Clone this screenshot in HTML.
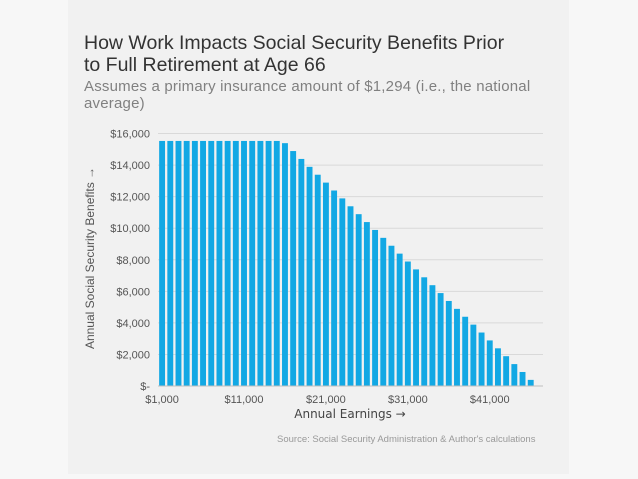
<!DOCTYPE html>
<html><head><meta charset="utf-8"><style>
body{margin:0;width:638px;height:479px;background:#f7f7f7;font-family:"Liberation Sans",sans-serif;overflow:hidden;position:relative}
#panel{position:absolute;left:68px;top:0;width:501px;height:474px;background:#f1f1f1}
.t{position:absolute;white-space:nowrap}
</style></head><body>
<div id="panel"></div>
<div class="t" style="left:84px;top:32px;font-size:19.5px;line-height:22px;color:#333">How Work Impacts Social Security Benefits Prior<br>to Full Retirement at Age 66</div>
<div class="t" style="left:84px;top:78px;font-size:15px;letter-spacing:0.2px;line-height:17px;color:#808080">Assumes a primary insurance amount of $1,294 (i.e., the national<br>average)</div>
<svg id="chart" width="638" height="479" style="position:absolute;left:0;top:0"></svg>
<div class="t" style="left:277px;top:434px;font-size:9.5px;color:#999">Source: Social Security Administration &amp; Author's calculations</div>
<script>
const earnings=[1000,2000,3000,4000,5000,6000,7000,8000,9000,10000,11000,12000,13000,14000,15000,16000,17000,18000,19000,20000,21000,22000,23000,24000,25000,26000,27000,28000,29000,30000,31000,32000,33000,34000,35000,36000,37000,38000,39000,40000,41000,42000,43000,44000,45000,46000];
const benefits=[15528,15528,15528,15528,15528,15528,15528,15528,15528,15528,15528,15528,15528,15528,15528,15388,14888,14388,13888,13388,12888,12388,11888,11388,10888,10388,9888,9388,8888,8388,7888,7388,6888,6388,5888,5388,4888,4388,3888,3388,2888,2388,1888,1388,888,388];
const yTicks=[0,2000,4000,6000,8000,10000,12000,14000,16000];
const yTickLabels=["$-","$2,000","$4,000","$6,000","$8,000","$10,000","$12,000","$14,000","$16,000"];
const xTickLabels=["$1,000","$11,000","$21,000","$31,000","$41,000"];
const NS="http://www.w3.org/2000/svg";
const svg=document.getElementById('chart');
const X0=158,X1=543,Y0=386,Y1=133.5,YMAX=16000;
const step=(X1-X0)/(earnings.length+1);
function xs(i){return X0+step*(i+0.5);}
function ys(v){return Y0-(v/YMAX)*(Y0-Y1);}
function mk(t,a){const e=document.createElementNS(NS,t);for(const k in a)e.setAttribute(k,a[k]);svg.appendChild(e);return e;}
yTicks.forEach((v,i)=>{
  if(v>0){const g=mk('line',{x1:X0,x2:X1,y1:ys(v),y2:ys(v),stroke:'#d9d9d9','stroke-width':1});
  
  }
  const t=mk('text',{x:150,y:ys(v)+4,'text-anchor':'end','font-size':11,fill:'#555','font-family':'Liberation Sans, sans-serif'});
  t.textContent=yTickLabels[i];
  
  
});
const bw=step*0.72;
benefits.forEach((v,i)=>{
  const r=mk('rect',{x:xs(i)-bw/2,y:ys(v),width:bw,height:Y0-ys(v),fill:'#12a8e4'});
  
  
});
const ax=mk('line',{x1:X0,x2:X1,y1:Y0,y2:Y0,stroke:'#bfbfbf','stroke-width':1});


xTickLabels.forEach((l,k)=>{
  const i=k*10;
  const t=mk('text',{x:xs(i),y:Y0+17,'text-anchor':'middle','font-size':11,fill:'#555','font-family':'Liberation Sans, sans-serif'});
  t.textContent=l;
  
  
});
const xt=mk('text',{x:350,y:418,'text-anchor':'middle','font-size':12,fill:'#444','font-family':'DejaVu Sans, sans-serif'});
xt.textContent='Annual Earnings →';


const yt=mk('text',{x:0,y:0,'text-anchor':'middle','font-size':12,fill:'#555','font-family':'Liberation Sans, DejaVu Sans, sans-serif',transform:'translate(94,258) rotate(-90)'});
yt.textContent='Annual Social Security Benefits →';


</script>
</body></html>
